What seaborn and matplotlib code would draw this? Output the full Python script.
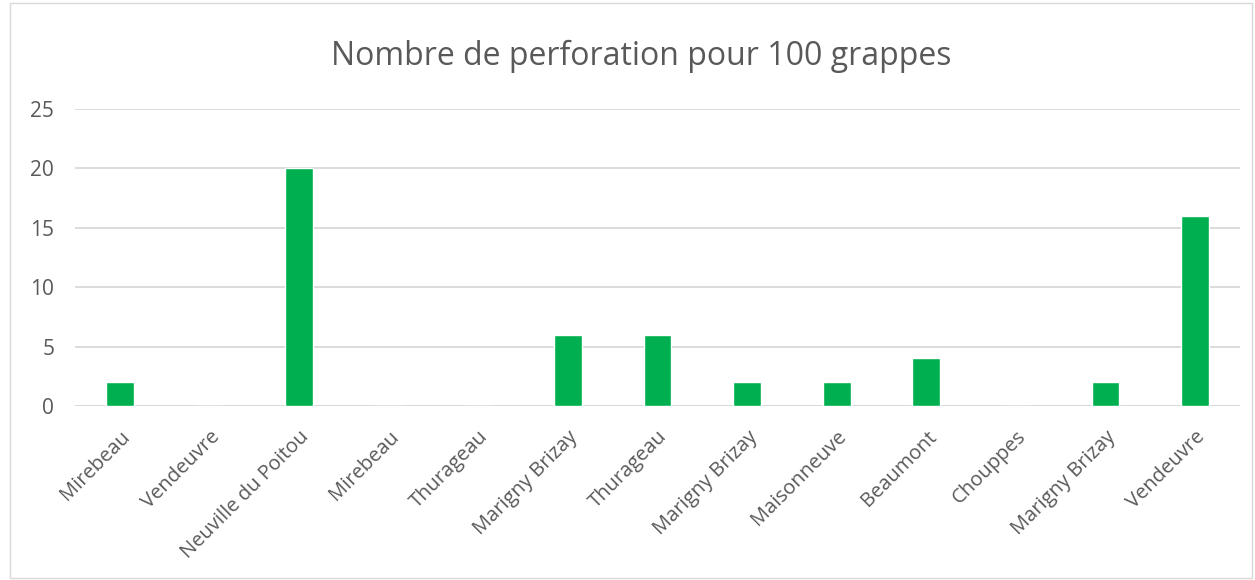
import pandas as pd
import matplotlib.pyplot as plt
import seaborn as sns
from matplotlib.patches import Rectangle

sites = ["Mirebeau", "Vendeuvre", "Neuville du Poitou", "Mirebeau", "Thurageau",
         "Marigny Brizay", "Thurageau", "Marigny Brizay", "Maisonneuve", "Beaumont",
         "Chouppes", "Marigny Brizay", "Vendeuvre"]
perforations = [2, 0, 20, 0, 0, 6, 6, 2, 2, 4, 0, 2, 16]
y_ticks = [0, 5, 10, 15, 20, 25]

df = pd.DataFrame({"pos": range(len(sites)), "site": sites, "val": perforations})

sns.set_theme(style="white")
plt.rcParams['font.family'] = ['Open Sans', 'DejaVu Sans']

fig = plt.figure(figsize=(12.55, 5.8), dpi=100)
ax = fig.add_axes([75 / 1255, 1 - 406 / 580, (1240 - 75) / 1255, (406 - 109) / 580])

sns.barplot(data=df, x="pos", y="val", color="#00B050", width=0.31,
            saturation=1, ax=ax, zorder=3)

ax.set_ylim(0, 25)
ax.set_xlim(-0.5, len(sites) - 0.5)
ax.set_yticks(y_ticks)
ax.set_yticklabels([str(t) for t in y_ticks], color="#595959", fontsize=15)
ax.set_xticks(range(len(sites)))
ax.set_xticklabels(sites, rotation=45, ha="right", rotation_mode="anchor",
                   color="#595959", fontsize=14.5)
ax.tick_params(axis="both", length=0)
ax.tick_params(axis="y", pad=15)
ax.tick_params(axis="x", pad=15)
ax.yaxis.grid(True, color="#D9D9D9", linewidth=1.3, zorder=0)
for s in ax.spines.values():
    s.set_visible(False)
ax.axhline(0, color="#D9D9D9", linewidth=1.3, zorder=2)
ax.set_xlabel("")
ax.set_ylabel("")

fig.text(641 / 1255, 1 - 56 / 580, "Nombre de perforation pour 100 grappes",
         ha="center", va="center", fontsize=23, color="#595959")

fig.patches.append(Rectangle((10 / 1255, 2 / 580), 1242 / 1255, 575 / 580,
                             transform=fig.transFigure, fill=False,
                             edgecolor="#D9D9D9", linewidth=1))

fig.savefig("out.png", dpi=100)
